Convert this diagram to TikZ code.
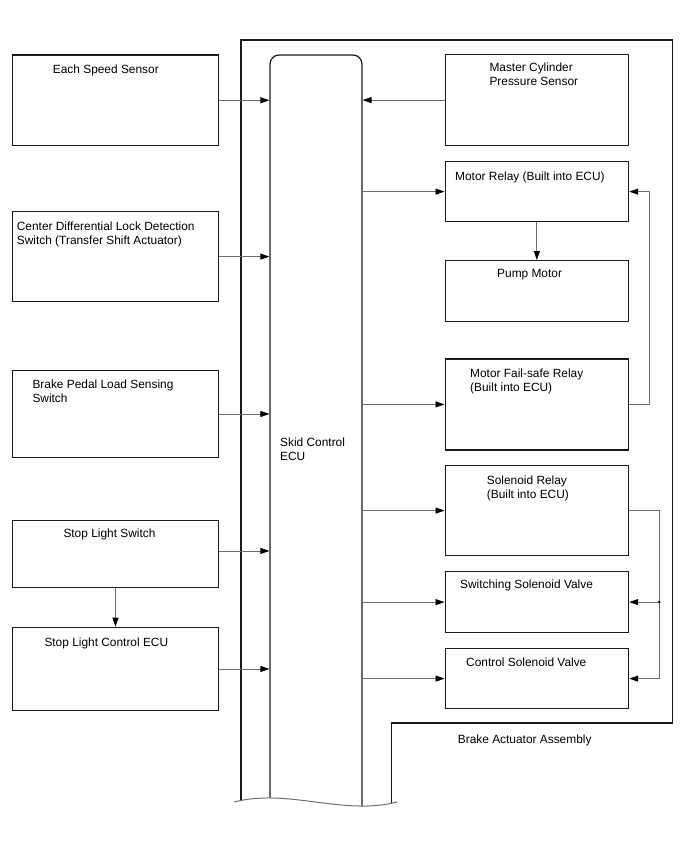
\documentclass[tikz,border=0pt]{standalone}
\usepackage{fontspec}
\setmainfont{Liberation Sans}
\usetikzlibrary{arrows.meta}
\definecolor{boxline}{HTML}{1A1A1A}
\definecolor{wireline}{HTML}{6E6E6E}
\tikzset{
  leftbox/.style={
    draw=boxline,
    line width=1.2pt,
    anchor=north west,
    inner sep=0pt,
    minimum width=205.7pt
  },
  rightbox/.style={
    draw=boxline,
    line width=1.2pt,
    anchor=north west,
    inner sep=0pt,
    minimum width=183.5pt
  },
  caption/.style={
    anchor=north west,
    inner sep=0pt,
    align=left,
    font=\fontsize{11.9}{14}\selectfont
  },
  ecuarea/.style={inner sep=0pt,outer sep=0.6pt,minimum width=92pt,minimum height=746pt},
  frame/.style={draw=boxline,line width=1.2pt},
  cut/.style={draw=wireline,line width=1pt},
  wire/.style={draw=wireline,line width=0.9pt,-{Triangle[length=9pt,width=6pt,color=black]}},
  junction/.style={circle,fill=black,inner sep=0pt,minimum size=3.2pt}
}

\begin{document}
\begin{tikzpicture}[x=1pt,y=-1pt]
  \useasboundingbox (0,0) rectangle (688,852);

  % sensors and switches
  \node[leftbox, minimum height=90.7pt] (speed) at (12,54.3) {};
  \node[leftbox, minimum height=90pt] (cdl) at (12,211) {};
  \node[leftbox, minimum height=87.3pt] (pedal) at (12,369.7) {};
  \node[leftbox, minimum height=66.7pt] (stopsw) at (12,520) {};
  \node[leftbox, minimum height=83.3pt] (stopecu) at (12,626.7) {};

  % brake actuator side
  \node[rightbox, minimum height=91pt] (mcyl) at (444.5,54) {};
  \node[rightbox, minimum height=60pt] (mrelay) at (444.5,161) {};
  \node[rightbox, minimum height=61pt] (pump) at (444.5,260) {};
  \node[rightbox, minimum height=91pt] (failsafe) at (444.5,358.3) {};
  \node[rightbox, minimum height=90pt] (solrelay) at (444.5,465) {};
  \node[rightbox, minimum height=61pt] (swvalve) at (444.5,571) {};
  \node[rightbox, minimum height=60pt] (ctvalve) at (444.5,648) {};

  \node[caption] (speed-t) at (52.7,65) {Each Speed Sensor};
  \node[caption] (cdl-t) at (16.7,221.7) {Center Differential Lock Detection\\Switch (Transfer Shift Actuator)};
  \node[caption] (pedal-t) at (32.3,380) {Brake Pedal Load Sensing\\Switch};
  \node[caption] (stopsw-t) at (63.3,528.3) {Stop Light Switch};
  \node[caption] (stopecu-t) at (44.3,637.7) {Stop Light Control ECU};
  \node[caption] (mcyl-t) at (489.3,62.7) {Master Cylinder\\Pressure Sensor};
  \node[caption] (mrelay-t) at (455,172) {Motor Relay (Built into ECU)};
  \node[caption] (pump-t) at (497,269) {Pump Motor};
  \node[caption] (failsafe-t) at (470,368.3) {Motor Fail-safe Relay\\(Built into ECU)};
  \node[caption] (solrelay-t) at (486.7,475.7) {Solenoid Relay\\(Built into ECU)};
  \node[caption] (swvalve-t) at (460,580) {Switching Solenoid Valve};
  \node[caption] (ctvalve-t) at (466,658) {Control Solenoid Valve};
  \node[caption] (assy-t) at (457.7,735) {Brake Actuator Assembly};

  % skid control ECU and actuator housing, cut off at the bottom
  \node[ecuarea] (ecu) at (316,428) {};
  \node[caption] (ecu-t) at (280,437.3) {Skid Control\\ECU};
  \begin{scope}
    \clip (0,0) -- (0,802) -- (234,802) .. controls (288.3,788) and (342.7,816) .. (397,802) -- (688,802) -- (688,0) -- cycle;
    \draw[frame] (241,830) -- (241,40) -- (672.5,40) -- (672.5,723) -- (391.5,723) -- (391.5,830);
    \draw[frame, rounded corners=9pt] (270,830) -- (270,55) -- (362,55) -- (362,830);
  \end{scope}
  \draw[cut] (234,802) .. controls (288.3,788) and (342.7,816) .. (397,802);

  \draw[wire] (speed.east) -- (speed.east -| ecu.west);
  \draw[wire] (cdl.east) -- (cdl.east -| ecu.west);
  \draw[wire] (pedal.east) -- (pedal.east -| ecu.west);
  \draw[wire] ([yshift=3pt]stopsw.east) -- ([yshift=3pt]stopsw.east -| ecu.west);
  \draw[wire] (stopecu.east) -- (stopecu.east -| ecu.west);
  \draw[wire] (stopsw.south) -- (stopecu.north);

  \draw[wire] (mcyl.west) -- (mcyl.west -| ecu.east);
  \draw[wire] (mrelay.west -| ecu.east) -- (mrelay.west);
  \draw[wire] (failsafe.west -| ecu.east) -- (failsafe.west);
  \draw[wire] (solrelay.west -| ecu.east) -- (solrelay.west);
  \draw[wire] (swvalve.west -| ecu.east) -- (swvalve.west);
  \draw[wire] (ctvalve.west -| ecu.east) -- (ctvalve.west);
  \draw[wire] (mrelay.south) -- (pump.north);

  \draw[wire] (failsafe.east) -- ++(20,0) |- (mrelay.east);
  \draw[wire] (solrelay.east) -- ++(30,0) coordinate (bus) |- (ctvalve.east);
  \node[junction] (jn) at (bus |- swvalve.east) {};
  \draw[wire] (jn.center) -- (swvalve.east);
\end{tikzpicture}
\end{document}
